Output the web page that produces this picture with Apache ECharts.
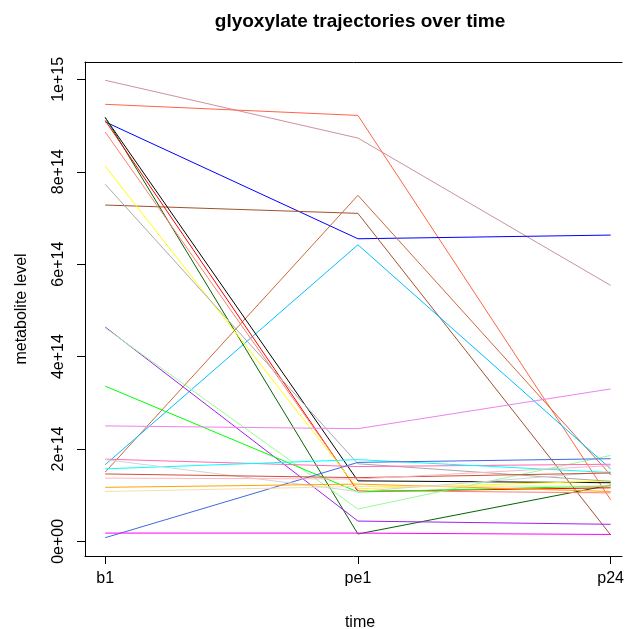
<!DOCTYPE html>
<html>
<head>
<meta charset="utf-8">
<script src="https://cdn.jsdelivr.net/npm/echarts@6/dist/echarts.min.js"></script>
<style>
html,body{margin:0;padding:0;background:#fff;}
#chart{width:627px;height:629px;}
</style>
</head>
<body>
<div id="chart"></div>
<script>
// time points
const categories = ['b1', 'pe1', 'p24'];
// metabolite level in units of 1e14, one entry per trajectory
const b1Values  = [9.98, 9.46, 9.08, 7.28, 1.50, 1.66, 9.17, 9.18, 9.11, 8.86, 8.12, 7.73, 4.64, 4.62, 3.36, 2.50, 1.78, 1.57, 0.08, 0.18, 1.77, 1.46, 1.37, 1.17, 1.08];
const pe1Values = [8.73, 9.22, 6.55, 7.10, 7.49, 6.42, 1.31, 0.16, 1.08, 1.10, 1.14, 1.68, 0.44, 0.70, 1.07, 2.44, 1.62, 1.77, 1.71, 0.18, 1.08, 1.38, 1.35, 1.24, 1.19];
const p24Values = [5.54, 0.90, 6.63, 0.14, 1.44, 1.57, 1.27, 1.22, 1.16, 1.05, 1.31, 1.30, 0.37, 1.86, 1.20, 3.30, 1.67, 1.49, 1.79, 0.15, 1.51, 1.48, 1.64, 1.08, 1.20];
const lineColors = ['#CD919E', '#FF6347', '#0000FF', '#A0522D', '#CD6839', '#00BFFF', '#000000', '#006400', '#FF0000', '#FA8072', '#FFFF00', '#A9A9A9', '#A020F0', '#98FB98', '#00FF00', '#EE82EE', '#FF69B4', '#00FFFF', '#4169E1', '#FF00FF', '#D3D3D3', '#CD4F39', '#FFB6C1', '#FFA500', '#F5DEB3'];
// y axis ticks (units of 1e14) and their labels
const yTickValues = [0, 2, 4, 6, 8, 10];
const yTickLabels = ['0e+00', '2e+14', '4e+14', '6e+14', '8e+14', '1e+15'];
const xTickValues = [1, 2, 3];

const FONT = 'Liberation Sans, Arial, Helvetica, sans-serif';

const series = b1Values.map((_, i) => ({
  type: 'line',
  symbol: 'none',
  silent: true,
  animation: false,
  clip: true,
  lineStyle: { width: 1, color: lineColors[i] },
  data: [[1, b1Values[i]], [2, pe1Values[i]], [3, p24Values[i]]]
}));

// the plot region continues past the right edge of the picture (R's 4% padding on 0.92..3.08)
const X_MIN = 0.92, X_MAX_VISIBLE = 3.045;

const chart = echarts.init(document.getElementById('chart'));
chart.setOption({
  animation: false,
  backgroundColor: '#ffffff',
  grid: { left: 85, top: 62, right: 0, bottom: 73, show: false, containLabel: false },
  xAxis: [{
    type: 'value', position: 'bottom',
    min: X_MIN, max: X_MAX_VISIBLE,
    axisLine: { show: true, onZero: false, lineStyle: { color: '#000', width: 1 } },
    splitLine: { show: false },
    axisTick: { show: true, customValues: xTickValues, length: 8, lineStyle: { color: '#000', width: 1 } },
    axisLabel: {
      customValues: xTickValues,
      formatter: v => categories[Math.round(v) - 1],
      margin: 15, color: '#000', fontSize: 16, fontFamily: FONT
    }
  }, {
    type: 'value', position: 'top',
    min: X_MIN, max: X_MAX_VISIBLE,
    axisLine: { show: true, onZero: false, lineStyle: { color: '#000', width: 1 } },
    splitLine: { show: false }, axisTick: { show: false }, axisLabel: { show: false }
  }],
  yAxis: {
    type: 'value',
    min: -0.316, max: 10.376,
    axisLine: { show: true, onZero: false, lineStyle: { color: '#000', width: 1 } },
    splitLine: { show: false },
    axisTick: { show: true, customValues: yTickValues, length: 8, lineStyle: { color: '#000', width: 1 } },
    axisLabel: {
      customValues: yTickValues,
      formatter: v => yTickLabels[yTickValues.indexOf(Math.round(v))],
      rotate: 90, margin: 18, color: '#000', fontSize: 16, fontFamily: FONT
    }
  },
  graphic: [
    { type: 'text', x: 360, y: 22, style: { text: 'glyoxylate trajectories over time', font: 'bold 19px ' + FONT, fill: '#000', textAlign: 'center', textVerticalAlign: 'middle' } },
    { type: 'text', x: 360, y: 623, style: { text: 'time', font: '16px ' + FONT, fill: '#000', textAlign: 'center', textVerticalAlign: 'middle' } },
    { type: 'text', x: 22, y: 309, rotation: Math.PI / 2, style: { text: 'metabolite level', font: '16px ' + FONT, fill: '#000', textAlign: 'center', textVerticalAlign: 'middle' } }
  ],
  series: series
});
</script>
</body>
</html>
